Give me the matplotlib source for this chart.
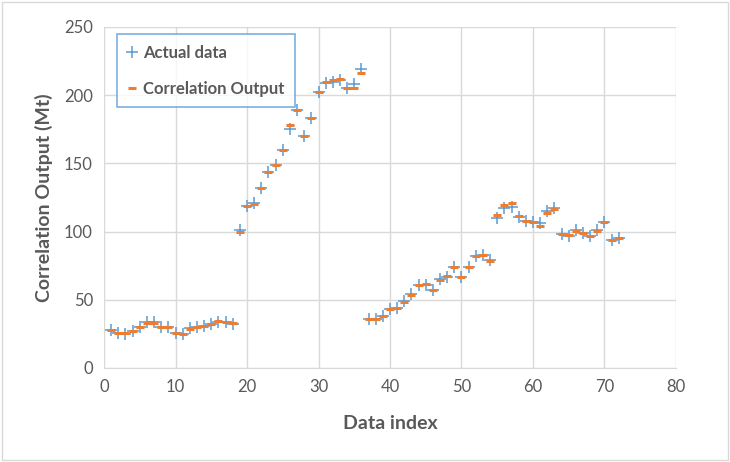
"""Actual data vs correlation output scatter."""

import matplotlib.pyplot as plt
from matplotlib.patches import Rectangle

BLUE = "#5B9BD5"
ORANGE = "#ED7D31"
GRID = "#D9D9D9"
TEXT = "#595959"

plt.rcParams["font.family"] = ["Lato", "DejaVu Sans"]

data_index = list(range(1, 73))

actual = [
    28, 26, 25, 27, 30, 34, 34, 30, 30, 26, 25, 29, 30, 31, 32, 34, 34, 32,
    101, 119, 121, 132, 144, 149, 160, 175, 189, 170, 183, 202, 209, 210, 211, 205, 208, 219,
    36, 36, 38, 43, 44, 49, 54, 61, 61, 57, 65, 67, 74, 67, 74, 82, 83, 79,
    110, 117, 118, 111, 108, 107, 106, 115, 117, 98, 97, 101, 99, 97, 101, 107, 94, 95,
]

correlation = [
    28, 26, 25.5, 27, 30, 33, 33, 30, 30, 26, 25, 28.5, 30, 31, 32, 34.5, 34, 33,
    100, 119, 120, 132, 144, 149, 160, 178, 189, 170, 183.5, 202, 210, 211, 212, 205.5, 205, 216.5,
    36, 36, 38, 43, 44, 48.6, 53.5, 61, 61.4, 57, 64.5, 67.5, 74, 67, 74, 82, 83, 78.5,
    112, 119.5, 121, 111.4, 107.8, 107.3, 104.3, 113.4, 116.6, 98, 97.5, 100.7, 98.7, 96.8, 100.7, 107.3, 93.8, 95,
]

x_ticks = list(range(0, 90, 10))
y_ticks = list(range(0, 300, 50))

fig = plt.figure(figsize=(7.3, 4.62), dpi=100)
ax = fig.add_axes([0.1425, 0.2035, 0.7835, 0.7381])

ax.plot(data_index, actual, linestyle="none", marker="+", markersize=9,
        markeredgewidth=1.1, color=BLUE, label="Actual data", zorder=3)
ax.plot(data_index, correlation, linestyle="none", marker="_", markersize=6,
        markeredgewidth=2.2, color=ORANGE, label="Correlation Output", zorder=4)

ax.set_xlim(0, 80)
ax.set_ylim(0, 250)
ax.set_xticks(x_ticks)
ax.set_yticks(y_ticks)
ax.grid(True, color=GRID, linewidth=1)
ax.set_axisbelow(True)
for side in ["top", "right", "left"]:
    ax.spines[side].set_visible(False)
ax.spines["bottom"].set_color(GRID)
ax.tick_params(length=0, labelsize=12, colors=TEXT, pad=8)

ax.set_xlabel("Data index", fontsize=14, fontweight="bold", color=TEXT, labelpad=14)
ax.set_ylabel("Correlation Output (Mt)", fontsize=14, fontweight="bold", color=TEXT, labelpad=8)

leg = ax.legend(loc="upper left", bbox_to_anchor=(0.022, 0.98),
                prop={"weight": "bold", "size": 12}, frameon=True, fancybox=False,
                handlelength=0.5, handletextpad=0.45, labelspacing=1.2,
                borderpad=0.65, borderaxespad=0)
leg.get_frame().set_edgecolor(BLUE)
leg.get_frame().set_linewidth(1.2)
for t in leg.get_texts():
    t.set_color(TEXT)

fig.patches.append(Rectangle((0.003, 0.005), 0.994, 0.99, transform=fig.transFigure,
                             fill=False, edgecolor=GRID, linewidth=1))

fig.savefig("out.png", dpi=100)
